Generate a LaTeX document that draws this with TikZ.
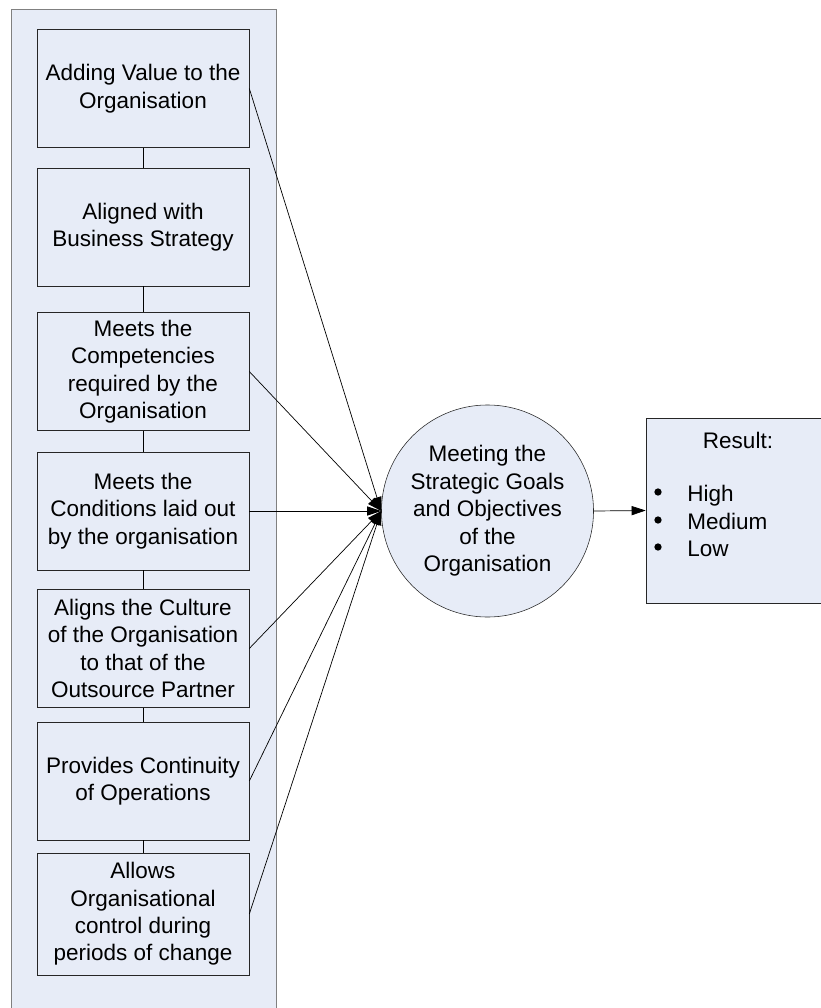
\documentclass[tikz,border=0pt]{standalone}
\usepackage{fontspec}
\setmainfont{Liberation Sans}
\usetikzlibrary{arrows.meta}
\definecolor{boxfill}{HTML}{E7ECF7}
\tikzset{
  txt/.style={font=\fontsize{16}{19.5}\selectfont,inner sep=0pt},
  crit/.style={txt,draw=black!85,fill=boxfill,minimum width=5.3cm,minimum height=2.95cm,align=center},
  link/.style={-{Triangle[length=10pt,width=6.5pt]},line width=0.5pt}
}
\begin{document}
\begin{tikzpicture}[x=0.025cm,y=-0.025cm]
\useasboundingbox (0,0) rectangle (821,1008);
\clip (0,0) rectangle (821,1008);
% panel behind the criteria
\draw[gray,fill=boxfill] (11,9) rectangle (276,1030);

\node[crit] (b1) at (143,88.5) {Adding Value to the\\Organisation};
\node[crit] (b2) at (143,227) {Aligned with\\Business Strategy};
\node[crit] (b3) at (143,371.5) {Meets the\\Competencies\\required by the\\Organisation};
\node[crit] (b4) at (143,511) {Meets the\\Conditions laid out\\by the organisation};
\node[crit] (b5) at (143,648.5) {Aligns the Culture\\of the Organisation\\to that of the\\Outsource Partner};
\node[crit] (b6) at (143,781) {Provides Continuity\\of Operations};
\node[crit,minimum height=3.05cm] (b7) at (143,914) {Allows\\Organisational\\control during\\periods of change};

\foreach \a/\b in {b1/b2,b2/b3,b3/b4,b4/b5,b5/b6,b6/b7}
  \draw[line width=0.5pt] (\a.south) -- (\b.north);

\node[txt,circle,draw=black!85,fill=boxfill,minimum size=5.3cm,align=center] (goal) at (487.5,511)
  {Meeting the\\Strategic Goals\\and Objectives\\of the\\Organisation};

\foreach \b in {b1,b3,b4,b5,b6,b7}
  \draw[link] (\b.east) -- (goal.west);

% result box
\node[draw=black!85,fill=boxfill,minimum width=4.6cm,minimum height=4.625cm] (res) at (738,510.5) {};
\node[txt] (restitle) at (738,440) {Result:};
\foreach \y/\t in {492/High,520/Medium,547/Low}{
  \fill (658,\y) circle (2.6pt);
  \node[txt,anchor=west,text height=11.5pt,text depth=0pt] (r\t) at (687,\y+1) {\t};
}
\draw[link] (goal.east) -- (res.west);

\end{tikzpicture}
\end{document}
